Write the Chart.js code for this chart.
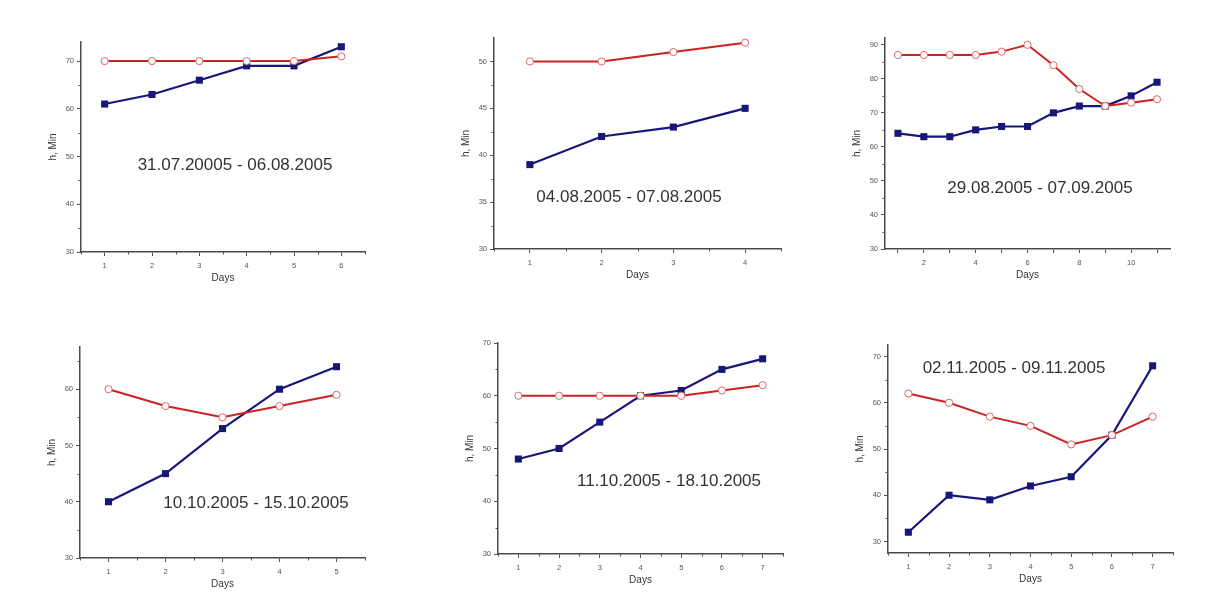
<!DOCTYPE html>
<html>
<head>
<meta charset="utf-8">
<script src="https://cdn.jsdelivr.net/npm/chart.js@4.4.1/dist/chart.umd.min.js"></script>
<style>
  body { margin: 0; background: #fff; width: 1228px; height: 598px; position: relative; overflow: hidden;
         font-family: "Liberation Sans", Arial, sans-serif; }
  .box { position: absolute; }
  .period { position: absolute; transform: translate(-50%, -50%); font-size: 17px; color: #333; white-space: nowrap; }
</style>
</head>
<body>
<script>
// panel 1
const p1Days = [1, 2, 3, 4, 5, 6];
const p1Blue = [61, 63, 66, 69, 69, 73];
const p1Red = [70, 70, 70, 70, 70, 71];
const p1XTicks = [1, 2, 3, 4, 5, 6];
const p1YTicks = [30, 40, 50, 60, 70];

// panel 2
const p2Days = [1, 2, 3, 4];
const p2Blue = [39, 42, 43, 45];
const p2Red = [50, 50, 51, 52];
const p2XTicks = [1, 2, 3, 4];
const p2YTicks = [30, 35, 40, 45, 50];

// panel 3
const p3Days = [1, 2, 3, 4, 5, 6, 7, 8, 9, 10, 11];
const p3Blue = [64, 63, 63, 65, 66, 66, 70, 72, 72, 75, 79];
const p3Red = [87, 87, 87, 87, 88, 90, 84, 77, 72, 73, 74];
const p3XTicks = [1, 2, 3, 4, 5, 6, 7, 8, 9, 10, 11];
const p3XLabels = [2, 4, 6, 8, 10];
const p3YTicks = [30, 40, 50, 60, 70, 80, 90];

// panel 4
const p4Days = [1, 2, 3, 4, 5];
const p4Blue = [40, 45, 53, 60, 64];
const p4Red = [60, 57, 55, 57, 59];
const p4XTicks = [1, 2, 3, 4, 5];
const p4YTicks = [30, 40, 50, 60];

// panel 5
const p5Days = [1, 2, 3, 4, 5, 6, 7];
const p5Blue = [48, 50, 55, 60, 61, 65, 67];
const p5Red = [60, 60, 60, 60, 60, 61, 62];
const p5XTicks = [1, 2, 3, 4, 5, 6, 7];
const p5YTicks = [30, 40, 50, 60, 70];

// panel 6
const p6Days = [1, 2, 3, 4, 5, 6, 7];
const p6Blue = [32, 40, 39, 42, 44, 53, 68];
const p6Red = [62, 60, 57, 55, 51, 53, 57];
const p6XTicks = [1, 2, 3, 4, 5, 6, 7];
const p6YTicks = [30, 40, 50, 60, 70];

const periods = [
  "31.07.20005 - 06.08.2005", "04.08.2005 - 07.08.2005", "29.08.2005 - 07.09.2005",
  "10.10.2005 - 15.10.2005", "11.10.2005 - 18.10.2005", "02.11.2005 - 09.11.2005"
];

const halves = arr => arr.map(v => v + 0.5).concat([arr[0] - 0.5]);
const fives = arr => arr.slice(0, -1).map((v, i) => (v + arr[i + 1]) / 2);

const panels = [
  { days: p1Days, blue: p1Blue, red: p1Red, xTicks: p1XTicks, yTicks: p1YTicks, xMin: 0.5, xMax: 6.5, yMin: 30, yMax: 74,
    xMinor: halves(p1XTicks), yMinor: fives(p1YTicks), area: [81, 42, 365, 252], label: [235, 165] },
  { days: p2Days, blue: p2Blue, red: p2Red, xTicks: p2XTicks, yTicks: p2YTicks, xMin: 0.5, xMax: 4.5, yMin: 30, yMax: 52.5,
    xMinor: halves(p2XTicks), yMinor: fives(p2YTicks), area: [494, 38, 781, 249], label: [629, 197] },
  { days: p3Days, blue: p3Blue, red: p3Red, xTicks: p3XTicks, xLabels: p3XLabels, yTicks: p3YTicks, xMin: 0.5, xMax: 11.5, yMin: 30, yMax: 92,
    xMinor: [], yMinor: fives(p3YTicks), area: [885, 38, 1170, 249], label: [1040, 188] },
  { days: p4Days, blue: p4Blue, red: p4Red, xTicks: p4XTicks, yTicks: p4YTicks, xMin: 0.5, xMax: 5.5, yMin: 30, yMax: 67.5,
    xMinor: halves(p4XTicks), yMinor: fives(p4YTicks).concat([65]), area: [80, 347, 365, 558], label: [256, 503] },
  { days: p5Days, blue: p5Blue, red: p5Red, xTicks: p5XTicks, yTicks: p5YTicks, xMin: 0.5, xMax: 7.5, yMin: 30, yMax: 70,
    xMinor: halves(p5XTicks), yMinor: fives(p5YTicks), area: [498, 343, 783, 554], label: [669, 481] },
  { days: p6Days, blue: p6Blue, red: p6Red, xTicks: p6XTicks, yTicks: p6YTicks, xMin: 0.5, xMax: 7.5, yMin: 27.5, yMax: 72.5,
    xMinor: halves(p6XTicks), yMinor: fives(p6YTicks), area: [888, 345, 1173, 553], label: [1014, 368] }
];

// short minor tick marks on both axes
const minorTicks = {
  id: "minorTicks",
  afterDraw(chart, args, opts) {
    const ctx = chart.ctx, a = chart.chartArea;
    ctx.save();
    ctx.strokeStyle = "#555";
    ctx.lineWidth = 1;
    ctx.beginPath();
    (opts.x || []).forEach(v => {
      const px = Math.round(chart.scales.x.getPixelForValue(v)) + 0.5;
      ctx.moveTo(px, a.bottom); ctx.lineTo(px, a.bottom + 2.5);
    });
    (opts.y || []).forEach(v => {
      const py = Math.round(chart.scales.y.getPixelForValue(v)) + 0.5;
      ctx.moveTo(a.left, py); ctx.lineTo(a.left - 2.5, py);
    });
    ctx.stroke();
    ctx.restore();
  }
};

const Y_W = 34, X_H = 32, PAD = 8;
const tickFont = { family: "'Liberation Sans', Arial, sans-serif", size: 7.5 };
const titleFont = { family: "'Liberation Sans', Arial, sans-serif", size: 10 };

panels.forEach((p, i) => {
  const [l, t, r, b] = p.area;
  const div = document.createElement("div");
  div.className = "box";
  const w = Y_W + (r - l) + PAD, h = PAD + (b - t) + X_H;
  div.style.left = (l - Y_W) + "px";
  div.style.top = (t - PAD) + "px";
  const canvas = document.createElement("canvas");
  canvas.width = w; canvas.height = h;
  canvas.style.width = w + "px"; canvas.style.height = h + "px";
  div.appendChild(canvas);
  document.body.appendChild(div);

  const txt = document.createElement("div");
  txt.className = "period";
  txt.textContent = periods[i];
  txt.style.left = p.label[0] + "px";
  txt.style.top = p.label[1] + "px";
  document.body.appendChild(txt);

  const xLabels = p.xLabels || p.xTicks;

  new Chart(canvas, {
    type: "line",
    data: {
      datasets: [
        {
          data: p.days.map((d, k) => ({ x: d, y: p.red[k] })),
          borderColor: "#cc2222",
          borderWidth: 2,
          pointStyle: "circle",
          pointRadius: 3.6,
          pointBackgroundColor: "#fff",
          pointBorderColor: "#dd6666",
          pointBorderWidth: 1,
          tension: 0
        },
        {
          data: p.days.map((d, k) => ({ x: d, y: p.blue[k] })),
          borderColor: "#17177a",
          borderWidth: 2.2,
          pointStyle: "rect",
          pointRadius: 5,
          pointBackgroundColor: "#17177a",
          pointBorderColor: "#17177a",
          pointBorderWidth: 0,
          tension: 0
        }
      ]
    },
    options: {
      responsive: false,
      animation: false,
      devicePixelRatio: 1,
      layout: { padding: { top: PAD, right: PAD, left: 0, bottom: 0 } },
      plugins: { legend: { display: false }, tooltip: { enabled: false }, minorTicks: { x: p.xMinor, y: p.yMinor } },
      scales: {
        x: {
          type: "linear", min: p.xMin, max: p.xMax,
          afterBuildTicks: s => { s.ticks = p.xTicks.map(v => ({ value: v })); },
          afterFit: s => { s.height = X_H; },
          ticks: { font: tickFont, color: "#555", padding: 5, maxRotation: 0,
                   callback: v => xLabels.includes(v) ? String(v) : "" },
          grid: { drawOnChartArea: false, tickLength: 4, color: "#555" },
          border: { color: "#4a4a4a", width: 1.5 },
          title: { display: true, text: "Days", font: titleFont, color: "#333", padding: 0 }
        },
        y: {
          min: p.yMin, max: p.yMax,
          afterBuildTicks: s => { s.ticks = p.yTicks.map(v => ({ value: v })); },
          afterFit: s => { s.width = Y_W; },
          ticks: { font: tickFont, color: "#555", padding: 3 },
          grid: { drawOnChartArea: false, tickLength: 4, color: "#555" },
          border: { color: "#4a4a4a", width: 1.5 },
          title: { display: true, text: "h, Min", font: titleFont, color: "#333", padding: 0 }
        }
      }
    },
    plugins: [minorTicks]
  });
});
</script>
</body>
</html>
